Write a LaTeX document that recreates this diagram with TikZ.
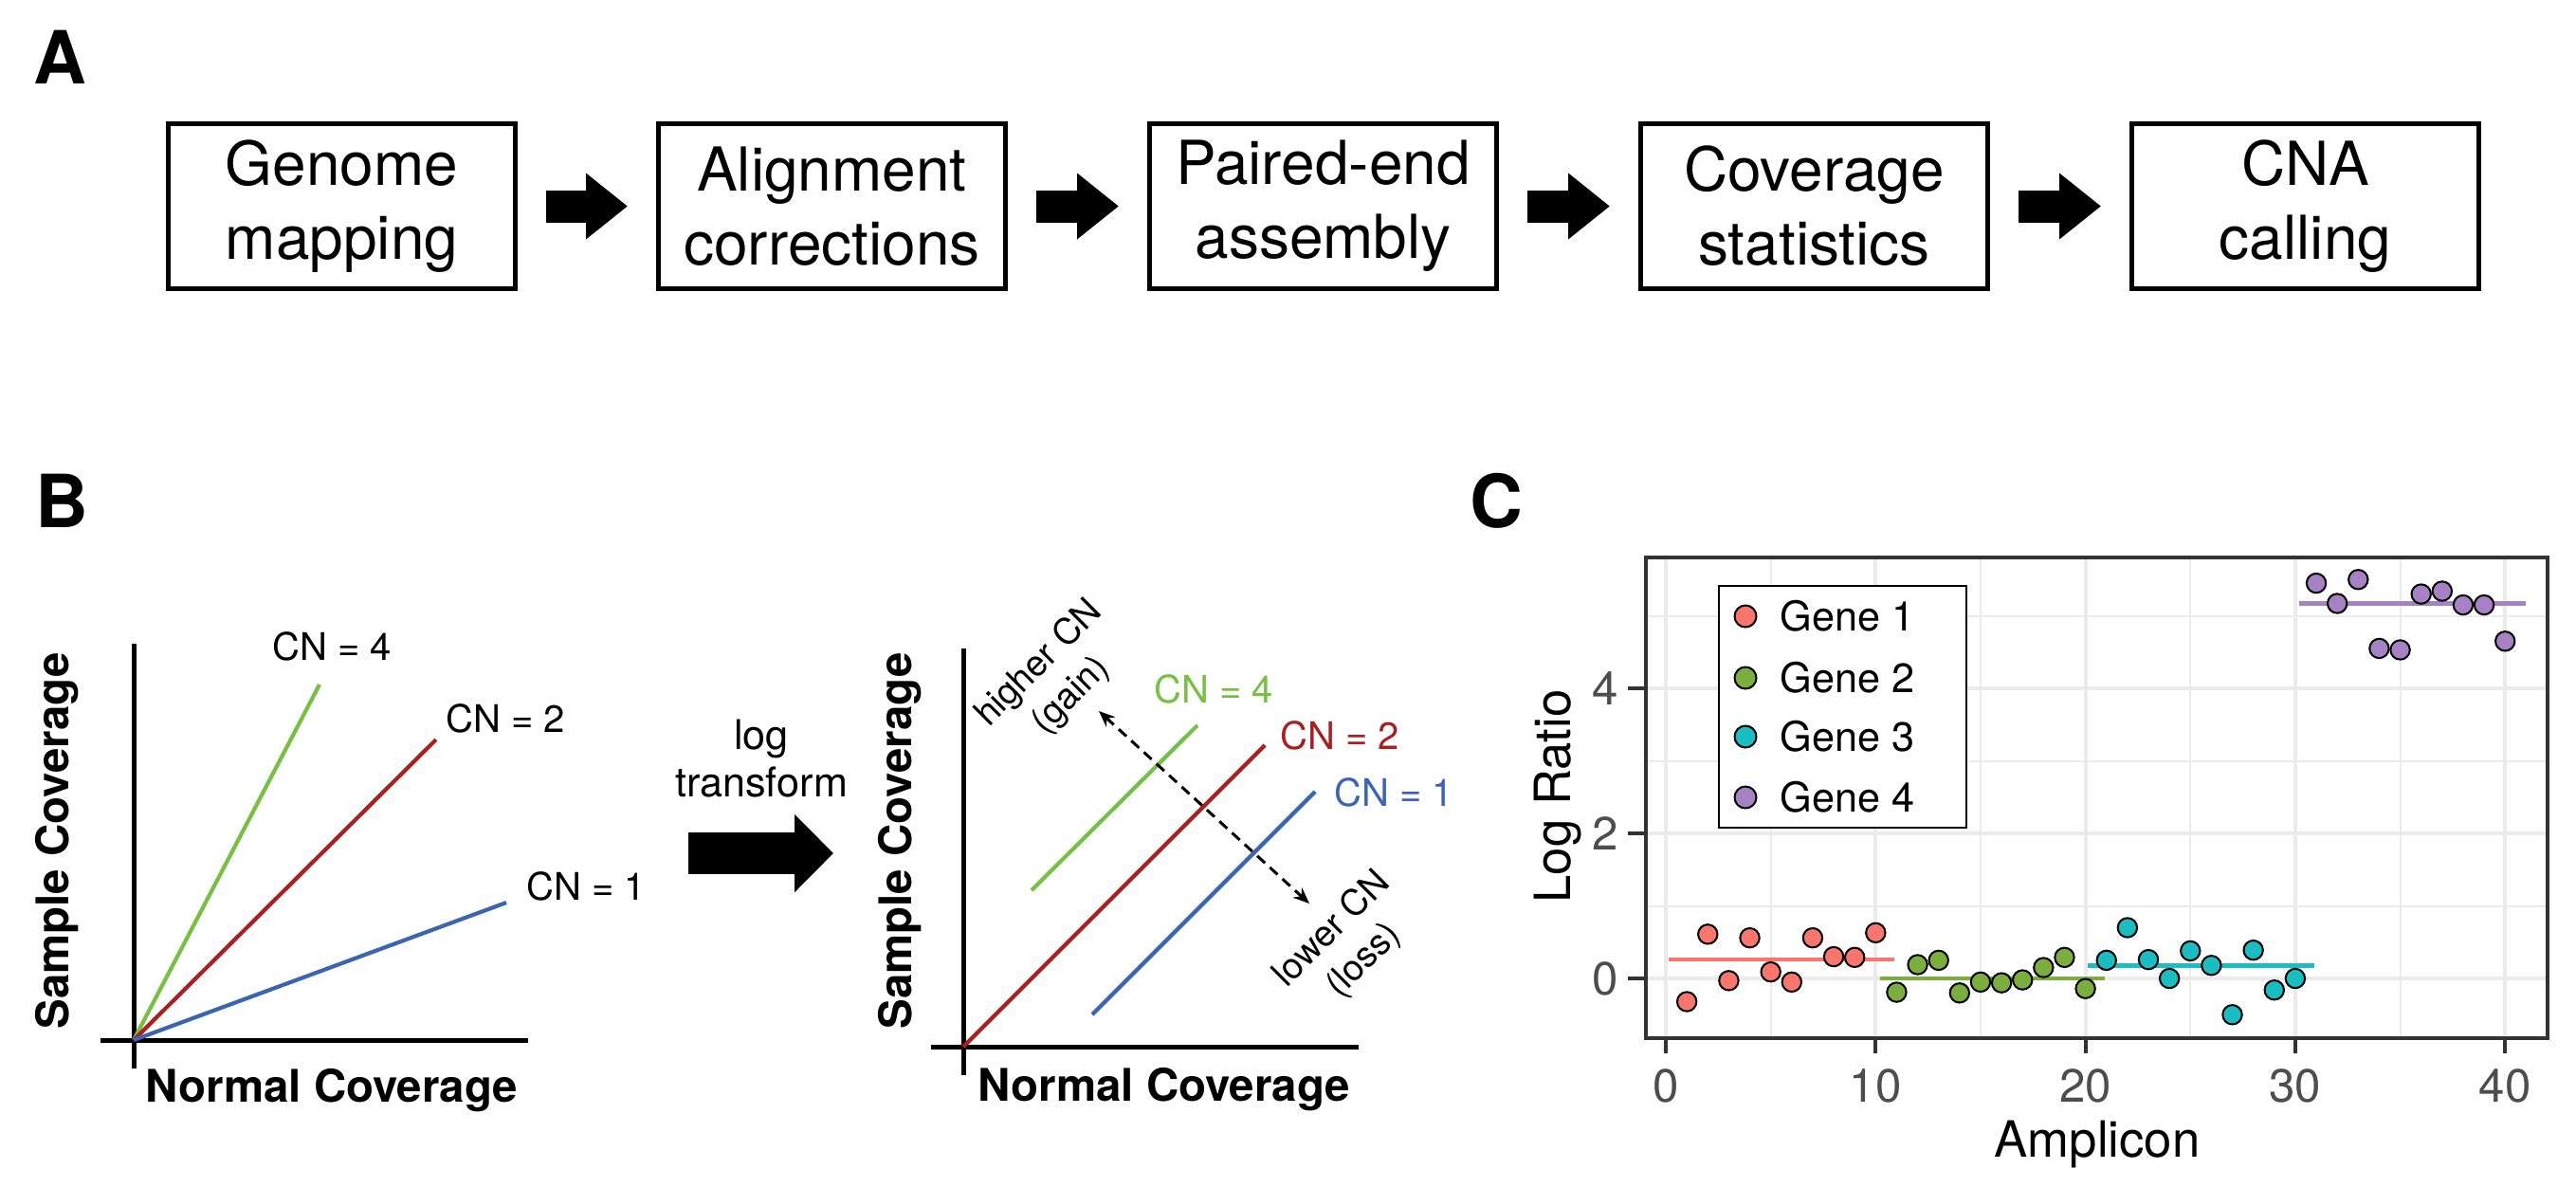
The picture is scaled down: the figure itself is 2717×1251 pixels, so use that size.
\documentclass[tikz,border=0pt]{standalone}
\usepackage{fontspec}
\setmainfont{TeX Gyre Heros}
\usepackage{tikz}
\usetikzlibrary{arrows.meta}
\definecolor{cnfourc}{RGB}{119,192,67}
\definecolor{cntwoc}{RGB}{168,32,31}
\definecolor{cnonec}{RGB}{59,100,179}
\definecolor{geneA}{RGB}{248,118,109}
\definecolor{geneB}{RGB}{124,174,63}
\definecolor{geneC}{RGB}{28,189,194}
\definecolor{geneD}{RGB}{166,129,196}
\definecolor{gridc}{RGB}{235,235,235}
\definecolor{framec}{RGB}{51,51,51}
\definecolor{tickc}{RGB}{77,77,77}
\newcommand{\fs}[2]{\fontsize{#1}{#2}\selectfont}
\newcommand{\ampdots}[2]{
    \foreach \px/\py in {#2}{
      \filldraw[fill=#1, draw=black, line width=0.2mm] (\px,\py) circle (1.02mm);
    }
}
\tikzset{
  stepbox/.style={draw, line width=0.5mm, minimum width=36.6mm, minimum height=17.4mm,
    align=center, inner sep=0pt, font=\fs{18.2}{22.2}},
  flowarrow/.style={line width=3.4mm, -{Triangle[length=4.4mm,width=6.7mm]},
    shorten <=3mm, shorten >=3mm},
  bigarrow/.style={line width=4.4mm, -{Triangle[length=4.1mm,width=8mm]}},
  paneltag/.style={font=\bfseries\fs{22}{22}, inner sep=0pt},
  axisline/.style={line width=0.5mm},
  cnline/.style={line width=0.42mm},
  cnlabel/.style={font=\fs{11.4}{13}, inner sep=0pt},
  axtitle/.style={font=\bfseries\fs{13.5}{16}, inner sep=0pt},
  gainloss/.style={line width=0.3mm, dash pattern=on 1.1mm off 0.7mm,
    {Stealth[length=1.7mm,width=1.4mm]}-{Stealth[length=1.7mm,width=1.4mm]}},
  turnlabel/.style={font=\fs{10.8}{13.4}, align=center, inner sep=0pt, rotate=45},
  gridline/.style={gridc, line width=#1},
  meanline/.style={line width=0.45mm},
  ticklabel/.style={font=\fs{14}{16}, text=tickc, inner sep=0pt},
  plottitle/.style={font=\fs{15}{18}, inner sep=0pt}
}
\begin{document}
\begin{tikzpicture}[x=0.1mm, y=-0.1mm]
\useasboundingbox (0,0) rectangle (2717,1251);
% A: pipeline
\node[paneltag] (tagA) at (63,60) {A};
\node[stepbox] (gm)  at (360.5,217.5)  {Genome\\mapping};
\node[stepbox] (ac)  at (877.5,217.5)  {Alignment\\corrections};
\node[stepbox] (pe)  at (1395.5,217.5) {Paired-end\\assembly};
\node[stepbox] (cs)  at (1913.5,217.5) {Coverage\\statistics};
\node[stepbox] (cna) at (2431.5,217.5) {CNA\\calling};
\draw[flowarrow] (gm) -- (ac);
\draw[flowarrow] (ac) -- (pe);
\draw[flowarrow] (pe) -- (cs);
\draw[flowarrow] (cs) -- (cna);
% B: linear coverage
\node[paneltag] (tagB) at (65,528) {B};
\draw[axisline] (141,679) -- (141,1127);
\draw[axisline] (106,1097) -- (557,1097);
\coordinate (lo) at (141,1097);
\coordinate (lfour) at (337,722);
\coordinate (ltwo) at (460,780);
\coordinate (lone) at (534,952);
\draw[cnline, cnfourc] (lo) -- (lfour);
\draw[cnline, cntwoc] (lo) -- (ltwo);
\draw[cnline, cnonec] (lo) -- (lone);
\node[cnlabel] (lfourlab) at (350,682) {CN = 4};
\node[cnlabel] (ltwolab) at (533,758) {CN = 2};
\node[cnlabel] (lonelab) at (618,935) {CN = 1};
\node[axtitle, rotate=90] (lsample) at (60,887) {Sample Coverage};
\node[axtitle] (lnormal) at (350,1150) {Normal Coverage};
% log transform
\node[font=\fs{12.3}{14}, align=center, inner sep=0pt] (logtf) at (803,800) {log\\transform};
\coordinate (tfstart) at (726,900);
\coordinate (tfend) at (879,900);
\draw[bigarrow] (tfstart) -- (tfend);
% B: log coverage
\draw[axisline] (1016,684) -- (1016,1134);
\draw[axisline] (982,1104) -- (1433,1104);
\coordinate (ro) at (1016,1104);
\coordinate (rtwo) at (1334,786);
\coordinate (rfoura) at (1088,939);
\coordinate (rfourb) at (1263,765);
\coordinate (ronea) at (1152,1070);
\coordinate (roneb) at (1387,835);
\draw[cnline, cntwoc] (ro) -- (rtwo);
\draw[cnline, cnfourc] (rfoura) -- (rfourb);
\draw[cnline, cnonec] (ronea) -- (roneb);
\node[cnlabel, text=cnfourc] (rfourlab) at (1280,727) {CN = 4};
\node[cnlabel, text=cntwoc] (rtwolab) at (1413,776) {CN = 2};
\node[cnlabel, text=cnonec] (ronelab) at (1470,836) {CN = 1};
\coordinate (gainend) at (1159,750);
\coordinate (lossend) at (1381,953);
\draw[gainloss] (gainend) -- (lossend);
\node[turnlabel] (gainlab) at (1113,717) {higher CN\\(gain)};
\node[turnlabel] (losslab) at (1422,997) {lower CN\\(loss)};
\node[axtitle, rotate=90] (rsample) at (949,887) {Sample Coverage};
\node[axtitle] (rnormal) at (1228,1149) {Normal Coverage};
% C: log ratio per amplicon
\node[paneltag] (tagC) at (1578,528) {C};
\begin{scope}[shift={(1757,1032)}, x=2.213mm, y=7.65mm]
  \foreach \gx in {5,15,25,35} \draw[gridline=0.2mm] (\gx,-0.824) -- (\gx,5.804);
  \foreach \gy in {1,3,5} \draw[gridline=0.2mm] (-0.949,\gy) -- (42.02,\gy);
  \foreach \gx in {0,10,20,30,40} \draw[gridline=0.4mm] (\gx,-0.824) -- (\gx,5.804);
  \foreach \gy in {0,2,4} \draw[gridline=0.4mm] (-0.949,\gy) -- (42.02,\gy);
  \draw[meanline, geneA] (0.15,0.26) -- (10.9,0.26);
  \draw[meanline, geneB] (10.2,0) -- (20.9,0);
  \draw[meanline, geneC] (20.1,0.18) -- (30.9,0.18);
  \draw[meanline, geneD] (30.2,5.17) -- (41.0,5.17);
  \ampdots{geneA}{1/-0.32,2/0.61,3/-0.03,4/0.56,5/0.09,6/-0.05,7/0.56,8/0.30,9/0.29,10/0.63}
  \ampdots{geneB}{11/-0.19,12/0.19,13/0.25,14/-0.20,15/-0.05,16/-0.06,17/-0.02,18/0.15,19/0.29,20/-0.14}
  \ampdots{geneC}{21/0.25,22/0.70,23/0.26,24/0,25/0.38,26/0.18,27/-0.50,28/0.39,29/-0.16,30/0}
  \ampdots{geneD}{31/5.45,32/5.17,33/5.50,34/4.55,35/4.53,36/5.30,37/5.34,38/5.15,39/5.15,40/4.65}
  \draw[framec, line width=0.4mm] (-0.949,-0.824) rectangle (42.02,5.804);
  \foreach \gx in {0,10,20,30,40}{
    \draw[framec, line width=0.4mm] (\gx,-0.824) -- ++(0,-1.6mm);
    \node[ticklabel] (xt\gx) at (\gx,-1.477) {\gx};
  }
  \foreach \gy in {0,2,4}{
    \draw[framec, line width=0.4mm] (-0.949,\gy) -- ++(-1.9mm,0);
    \node[ticklabel, anchor=east] (yt\gy) at (-2.214,\gy) {\gy};
  }
\end{scope}
\node[plottitle, rotate=90] (ylab) at (1643,840) {Log Ratio};
\node[plottitle] (xlab) at (2212,1207) {Amplicon};
% legend
\draw[fill=white, line width=0.25mm] (1813,618) rectangle (2074,873);
\foreach \i/\c/\ly in {1/geneA/650, 2/geneB/715, 3/geneC/777, 4/geneD/841}{
  \filldraw[fill=\c, draw=black, line width=0.2mm] (1841,\ly) circle (1.15mm);
  \node[font=\fs{12.3}{14}, anchor=west, inner sep=0pt] (leg\i) at (1877,\ly) {Gene \i};
}
\end{tikzpicture}
\end{document}
